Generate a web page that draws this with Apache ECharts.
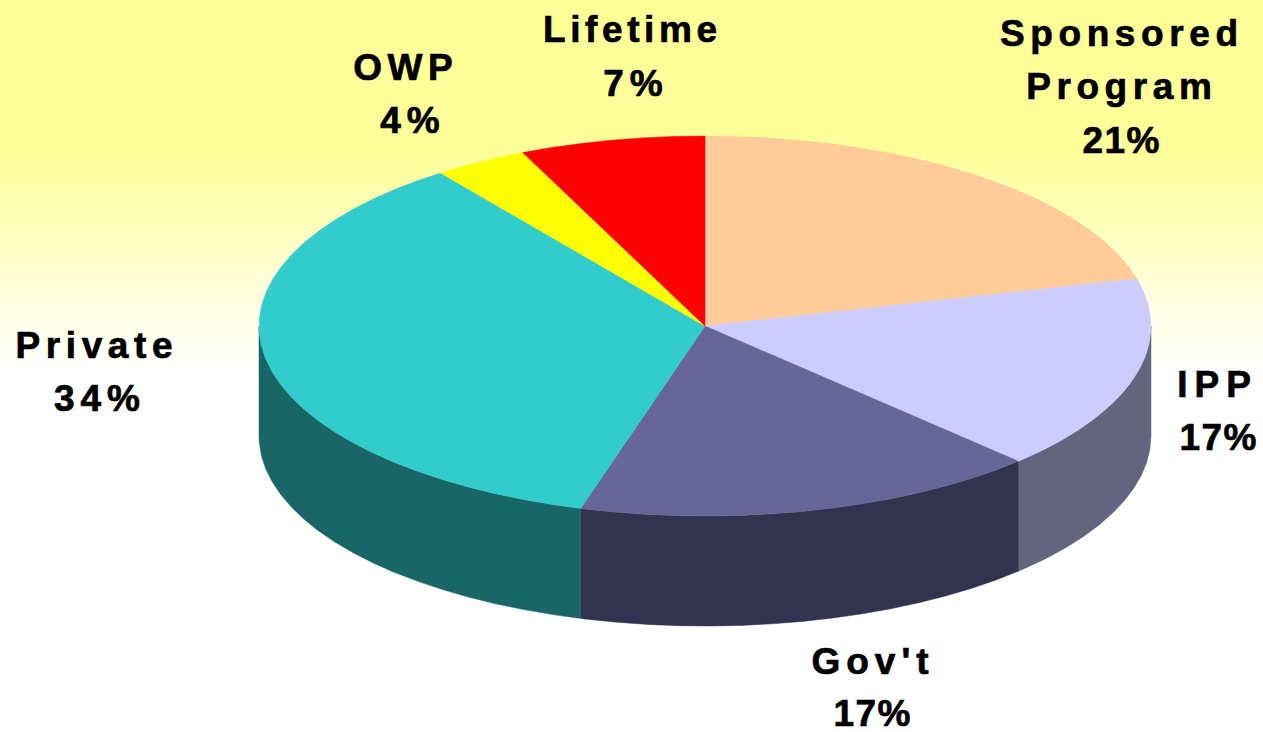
<!DOCTYPE html>
<html>
<head>
<meta charset="utf-8">
<script src="https://cdn.jsdelivr.net/npm/echarts@6/dist/echarts.min.js"></script>
<style>
html,body{margin:0;padding:0;background:#fff}
#c{width:1263px;height:732px}
</style>
</head>
<body>
<div id="c"></div>
<script>
var categories = ['Sponsored\nProgram', 'IPP', "Gov't", 'Private', 'OWP', 'Lifetime'];
// Printed percentages, as labelled in the picture.
var percentLabels = [21, 17, 17, 34, 4, 7];
var sliceValues = [21, 16.6, 16.9, 35.4, 3.4, 6.7];
var topColors = ['#FFCC99', '#CCCCFF', '#666699', '#33CCCC', '#FFFF00', '#FF0000'];
var wallColors = ['#7F664C', '#64647F', '#33334F', '#196666', '#7F7F00', '#7F0000'];
var nameAnchors = [[1119, 60], [1214, 384], [870, 661], [94, 345], [403, 67], [630, 29]];
var percentAnchors = [[1121, 140], [1218, 437], [872, 713], [97, 398], [410, 120], [633, 83]];
var letterSpacing = {
  'Sponsored': 5.6, 'Program': 5.6, 'IPP': 7, "Gov't": 6, 'Private': 5.6, 'OWP': 5.5, 'Lifetime': 4.6,
  '21%': 1.5, '17%': 1.5, '34%': 6, '4%': 6, '7%': 6
};

var pie = {cx: 705, cy: 326, rx: 446, ry: 190, depth: 110, stepDeg: 4};
var total = sliceValues.reduce(function (a, b) { return a + b; }, 0);
var starts = [];
sliceValues.reduce(function (acc, v, i) { starts[i] = acc; return acc + v; }, 0);

function rim(deg, dy) {
  var t = deg * Math.PI / 180;
  return [pie.cx + pie.rx * Math.sin(t), pie.cy - pie.ry * Math.cos(t) + (dy || 0)];
}
function arc(a, b, dy) {
  var pts = [], d = a;
  while (d < b) { pts.push(rim(d, dy)); d += pie.stepDeg; }
  pts.push(rim(b, dy));
  return pts;
}
function textEl(str, anchor) {
  return {
    type: 'text', z2: 3,
    x: anchor[0], y: anchor[1],
    style: {
      text: str,
      fill: '#000', stroke: '#000', lineWidth: 0.7,
      align: 'center', verticalAlign: 'middle',
      font: 'bold 37px "Liberation Sans", Arial, sans-serif',
      lineHeight: 53.5
    }
  };
}

function renderItem(params, api) {
  var i = params.dataIndex;
  var a = starts[i] / total * 360;
  var b = a + api.value(0) / total * 360;
  var children = [];
  var wa = Math.max(a, 90), wb = Math.min(b, 270);
  if (wb > wa) {
    children.push({
      type: 'polygon', z2: 1,
      shape: {points: arc(wa, wb, 0).concat(arc(wa, wb, pie.depth).reverse())},
      style: {fill: wallColors[i], stroke: wallColors[i], lineWidth: 0.5}
    });
  }
  children.push({
    type: 'polygon', z2: 2,
    shape: {points: [[pie.cx, pie.cy]].concat(arc(a, b, 0))},
    style: {fill: topColors[i], stroke: topColors[i], lineWidth: 0.5}
  });
  children.push(textEl(categories[i], nameAnchors[i]));
  children.push(textEl(percentLabels[i] + '%', percentAnchors[i]));
  return {type: 'group', children: children};
}

var chart = echarts.init(document.getElementById('c'), null, {renderer: 'svg'});
function applySpacing() {
  var nodes = document.querySelectorAll('#c svg text');
  for (var n = 0; n < nodes.length; n++) {
    var ls = letterSpacing[nodes[n].textContent];
    if (ls != null) {
      nodes[n].style.letterSpacing = ls + 'px';
      nodes[n].setAttribute('dx', ls / 2);
    }
  }
}
chart.on('finished', applySpacing);
chart.setOption({
  animation: false,
  backgroundColor: {
    type: 'linear', x: 0, y: 0, x2: 0, y2: 1,
    colorStops: [
      {offset: 0, color: '#FFFF99'},
      {offset: 0.205, color: '#FFFF99'},
      {offset: 0.505, color: '#FFFFFF'},
      {offset: 1, color: '#FFFFFF'}
    ]
  },
  series: [{
    type: 'custom',
    coordinateSystem: 'none',
    silent: true,
    renderItem: renderItem,
    encode: {value: 0},
    data: categories.map(function (name, i) { return {name: name, value: [sliceValues[i]]}; })
  }]
});
applySpacing();
</script>
</body>
</html>
